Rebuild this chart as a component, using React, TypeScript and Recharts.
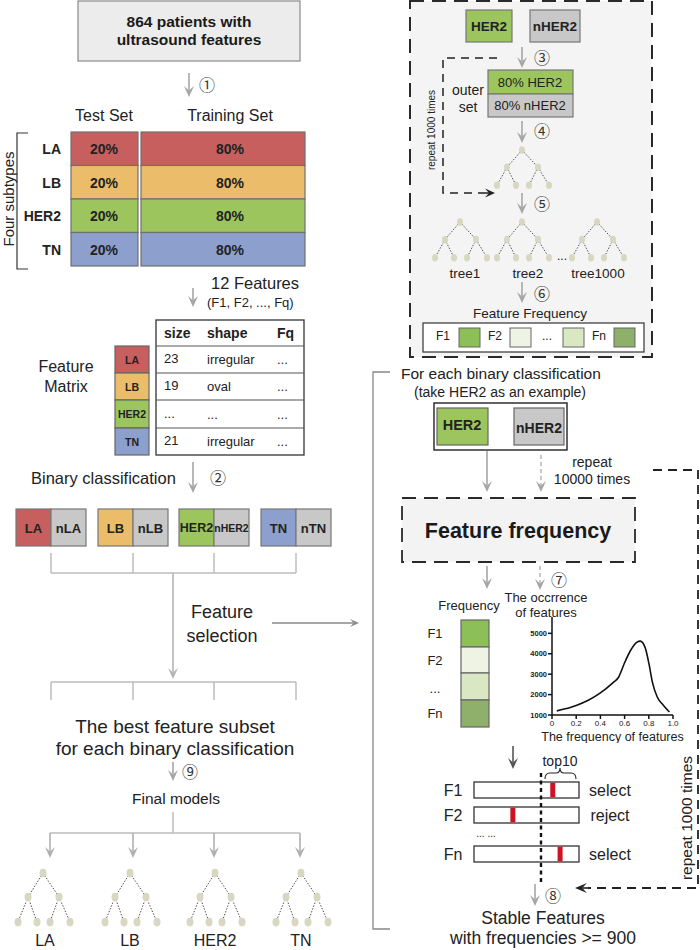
import React from 'react';
import { LineChart, Line, XAxis, YAxis } from 'recharts';

const subtypes = ['LA', 'LB', 'HER2', 'TN'];
const subtypeColors = ['#c65f5d', '#ebbd6a', '#9dc55d', '#8d9fcc'];
const testShare = ['20%', '20%', '20%', '20%'];
const trainShare = ['80%', '80%', '80%', '80%'];
const matrixHeader = ['size', 'shape', 'Fq'];
const matrixSize = ['23', '19', '...', '21'];
const matrixShape = ['irregular', 'oval', '...', 'irregular'];
const matrixFq = ['...', '...', '...', '...'];
const negatives = ['nLA', 'nLB', 'nHER2', 'nTN'];
const featureNames = ['F1', 'F2', '...', 'Fn'];
const featureShades = ['#8cbf58', '#eef3e3', '#d9e7c3', '#8fb06b'];
const treeNames = ['tree1', 'tree2', 'tree1000'];
const barNames = ['F1', 'F2', 'Fn'];
const barMark = [0.75, 0.37, 0.82];
const barDecision = ['select', 'reject', 'select'];

// occurrence curve
const freqX = [0.04, 0.1, 0.2, 0.3, 0.4, 0.5, 0.55, 0.6, 0.65, 0.7, 0.73, 0.77, 0.8, 0.83, 0.87, 0.92, 0.97];
const occurrence = [1200, 1290, 1470, 1720, 2080, 2560, 2850, 3560, 4170, 4560, 4620, 4300, 3550, 2600, 1880, 1480, 1150];
const freqTicks = [0, 0.2, 0.4, 0.6, 0.8, 1.0];
const occTicks = [1000, 2000, 3000, 4000, 5000];

const curveData = freqX.map((x, i) => ({ x, occ: occurrence[i] }));

const FONT = '"Liberation Sans", Arial, Helvetica, sans-serif';
const CIRC = '"Noto Sans CJK JP", "DejaVu Serif", serif';
const GRAY = '#a6a6a6';
const LINE = '#bdbdbd';

const T = ({ x, y, size = 14, bold = false, anchor = 'middle', fill = '#222', rotate = 0, family = FONT, children }: any) => (
  <text
    x={x}
    y={y}
    fontSize={size}
    fontWeight={bold ? 700 : 400}
    textAnchor={anchor}
    dominantBaseline="central"
    fill={fill}
    fontFamily={family}
    transform={rotate ? `rotate(${rotate} ${x} ${y})` : undefined}
  >
    {children}
  </text>
);

const Step = ({ x, y, children }: any) => (
  <T x={x} y={y} size={16} family={CIRC} fill="#333">{children}</T>
);

function Arrow({ x1, y1, x2, y2, color = GRAY, width = 1.6, head = 11, spread = 5, dash }: any) {
  const a = Math.atan2(y2 - y1, x2 - x1);
  const ux = Math.cos(a), uy = Math.sin(a);
  const px = -uy, py = ux;
  const bx = x2 - ux * head, by = y2 - uy * head;
  const nx = x2 - ux * head * 0.6, ny = y2 - uy * head * 0.6;
  const pts = `${x2},${y2} ${bx + px * spread},${by + py * spread} ${nx},${ny} ${bx - px * spread},${by - py * spread}`;
  return (
    <g>
      <line x1={x1} y1={y1} x2={nx} y2={ny} stroke={color} strokeWidth={width} strokeDasharray={dash} />
      <polygon points={pts} fill={color} />
    </g>
  );
}

function Tree({ cx, cy, sy = 1, r = 3.5 }: any) {
  const nodes = [[0, 0], [-15, 24], [16, 24], [-25, 49], [-6, 49], [7, 49], [27, 49]];
  const edges = [[0, 1], [0, 2], [1, 3], [1, 4], [2, 5], [2, 6]];
  const p = nodes.map(([dx, dy]) => [cx + dx, cy + dy * sy]);
  return (
    <g>
      {edges.map(([a, b], i) => (
        <line key={i} x1={p[a][0]} y1={p[a][1]} x2={p[b][0]} y2={p[b][1]} stroke="#333" strokeWidth={0.9} strokeDasharray="1.4 1.6" />
      ))}
      {p.map(([x, y], i) => (
        <ellipse key={i} cx={x} cy={y} rx={r} ry={r * 1.25} fill="#d7d7c2" />
      ))}
    </g>
  );
}

function Diagram() {
  const rowH = 33.5;
  const mRows = [346, 373, 400, 428];
  const pairX = [16, 98, 179, 261];
  const finalX = [50, 133, 214, 300];
  const finalTree = [43, 130, 215, 301];
  const topTrees = [460, 522, 597];
  const treeLabelX = [465, 528, 598];
  const ffSquares = [459, 510, 563, 614];
  const ffLabels = [443, 495, 547, 599];
  const freqTops = [620, 647, 673, 700];
  const barTops = [782, 807, 846];
  return (
    <svg width={700} height={950} style={{ position: 'absolute', left: 0, top: 0 }}>
      {/* ---------- left column ---------- */}
      <rect x={78} y={1} width={222} height={60} fill="#ececec" stroke="#8a8a8a" strokeWidth={1.2} />
      <T x={189} y={21} size={15.5} bold fill="#1a1a1a">864 patients with</T>
      <T x={189} y={39} size={15.5} bold fill="#1a1a1a">ultrasound features</T>
      <Arrow x1={189} y1={73} x2={189} y2={97} />
      <Step x={207} y={84}>①</Step>

      <T x={104} y={115} size={16}>Test Set</T>
      <T x={230} y={115} size={16}>Training Set</T>
      {subtypes.map((s, i) => {
        const y = 132 + i * rowH;
        return (
          <g key={s}>
            <rect x={71} y={y} width={67} height={rowH} fill={subtypeColors[i]} stroke="#707070" strokeWidth={1.2} />
            <rect x={141} y={y} width={164} height={rowH} fill={subtypeColors[i]} stroke="#707070" strokeWidth={1.2} />
            <T x={104} y={y + 17} size={14} bold>{testShare[i]}</T>
            <T x={230} y={y + 17} size={14} bold>{trainShare[i]}</T>
            <T x={61} y={y + 17} size={14} bold anchor="end">{s}</T>
          </g>
        );
      })}
      <path d="M28 133 H17 V269 H28" fill="none" stroke="#333" strokeWidth={1.2} />
      <T x={8} y={199} size={15} rotate={-90}>Four subtypes</T>

      <Arrow x1={193} y1={288} x2={193} y2={307} />
      <T x={211} y={283} size={16.5} anchor="start">12 Features</T>
      <T x={207} y={302} size={13} anchor="start">(F1, F2, ..., Fq)</T>

      <T x={66} y={366} size={16}>Feature</T>
      <T x={66} y={386} size={16}>Matrix</T>
      <rect x={156} y={320} width={148} height={135} fill="#fff" stroke="#333" strokeWidth={1.3} />
      {mRows.map((y) => (
        <line key={y} x1={156} y1={y} x2={304} y2={y} stroke="#555" strokeWidth={1} />
      ))}
      <T x={164} y={333} size={14} bold anchor="start">{matrixHeader[0]}</T>
      <T x={207} y={333} size={14} bold anchor="start">{matrixHeader[1]}</T>
      <T x={277} y={333} size={14} bold anchor="start">{matrixHeader[2]}</T>
      {subtypes.map((s, i) => {
        const y = mRows[i];
        const h = (i < 3 ? mRows[i + 1] : 455) - y;
        return (
          <g key={s}>
            <rect x={115} y={y} width={34} height={h} fill={subtypeColors[i]} stroke="#666" strokeWidth={1.2} />
            <T x={132} y={y + h / 2} size={10.5} bold>{s}</T>
            <T x={164} y={y + h / 2 - 1} size={13} anchor="start">{matrixSize[i]}</T>
            <T x={207} y={y + h / 2} size={13} anchor="start">{matrixShape[i]}</T>
            <T x={277} y={y + h / 2} size={13} anchor="start">{matrixFq[i]}</T>
          </g>
        );
      })}

      <T x={31} y={478} size={16.5} anchor="start">Binary classification</T>
      <Arrow x1={193} y1={462} x2={193} y2={493} />
      <Step x={218} y={477}>②</Step>

      {subtypes.map((s, i) => {
        const x = pairX[i];
        return (
          <g key={s}>
            <rect x={x} y={509} width={35} height={37} fill={subtypeColors[i]} stroke="#777" strokeWidth={1.2} />
            <rect x={x + 35} y={509} width={35} height={37} fill="#c8c8c8" stroke="#777" strokeWidth={1.2} />
            <T x={x + 17.5} y={528} size={s === 'HER2' ? 12.5 : 13} bold>{s}</T>
            <T x={x + 52.5} y={528} size={negatives[i] === 'nHER2' ? 10.5 : 13} bold>{negatives[i]}</T>
            <line x1={x + 35} y1={553} x2={x + 35} y2={573} stroke={LINE} strokeWidth={1.5} />
            <line x1={x + 35} y1={682} x2={x + 35} y2={700} stroke={LINE} strokeWidth={1.5} />
          </g>
        );
      })}
      <line x1={51} y1={573} x2={296} y2={573} stroke={LINE} strokeWidth={1.5} />
      <Arrow x1={173} y1={573} x2={173} y2={679} color="#b5b5b5" />
      <line x1={51} y1={682} x2={296} y2={682} stroke={LINE} strokeWidth={1.5} />
      <T x={222} y={612} size={18}>Feature</T>
      <T x={222} y={636} size={18}>selection</T>
      <Arrow x1={272} y1={623} x2={359} y2={623} color="#8a8a8a" width={1.3} head={9} spread={4} />

      <T x={175} y={726} size={19}>The best feature subset</T>
      <T x={175} y={748} size={19}>for each binary classification</T>
      <Arrow x1={173} y1={762} x2={173} y2={781} />
      <Step x={190} y={771}>⑨</Step>
      <T x={176} y={798} size={15.5}>Final models</T>
      <line x1={173} y1={812} x2={173} y2={833} stroke={LINE} strokeWidth={1.5} />
      <line x1={50} y1={833} x2={300} y2={833} stroke={LINE} strokeWidth={1.5} />
      {finalX.map((x, i) => (
        <g key={i}>
          <Arrow x1={x} y1={833} x2={x} y2={858} color="#b0b0b0" />
          <Tree cx={finalTree[i]} cy={873} />
          <T x={finalTree[i] + (i === 0 ? 2 : 0)} y={940} size={16}>{subtypes[i]}</T>
        </g>
      ))}

      {/* bracket */}
      <path d="M390 372 H373 V929 H390" fill="none" stroke="#888" strokeWidth={1.3} />

      {/* ---------- right top panel ---------- */}
      <rect x={410} y={1} width={242} height={356} fill="#f4f4f4" stroke="#2a2a2a" strokeWidth={2} strokeDasharray="14 8" />
      <rect x={466} y={10} width={46} height={32} fill={subtypeColors[2]} stroke="#777" strokeWidth={1.2} />
      <rect x={530} y={10} width={50} height={32} fill="#c8c8c8" stroke="#777" strokeWidth={1.2} />
      <T x={489} y={26} size={13.5} bold>HER2</T>
      <T x={555} y={26} size={13.5} bold>nHER2</T>
      <Arrow x1={522} y1={47} x2={522} y2={68} />
      <Step x={542} y={57}>③</Step>
      <path d="M497 58 H443 V193 H484" fill="none" stroke="#222" strokeWidth={1.5} strokeDasharray="8 6" />
      <Arrow x1={484} y1={193} x2={495} y2={193} color="#222" width={1.5} head={10} spread={4.5} />
      <T x={431} y={130} size={10} rotate={-90}>repeat 1000 times</T>
      <T x={468} y={90} size={14}>outer</T>
      <T x={468} y={107} size={14}>set</T>
      <rect x={488} y={70} width={85} height={24} fill={subtypeColors[2]} stroke="#777" strokeWidth={1.2} />
      <rect x={488} y={94} width={85} height={23} fill="#c8c8c8" stroke="#777" strokeWidth={1.2} />
      <T x={530} y={82} size={13}>80% HER2</T>
      <T x={530} y={105.5} size={13}>80% nHER2</T>
      <Arrow x1={522} y1={121} x2={522} y2={143} />
      <Step x={542} y={130}>④</Step>
      <Tree cx={522} cy={150} sy={0.72} r={3} />
      <Arrow x1={522} y1={193} x2={522} y2={214} />
      <Step x={542} y={203}>⑤</Step>
      {topTrees.map((x, i) => (
        <g key={i}>
          <Tree cx={x} cy={222} sy={0.73} r={3} />
          <T x={treeLabelX[i]} y={273} size={13.5}>{treeNames[i]}</T>
        </g>
      ))}
      <T x={562} y={256} size={12}>...</T>
      <Arrow x1={522} y1={282} x2={522} y2={303} />
      <Step x={542} y={293}>⑥</Step>
      <T x={530} y={313} size={13.5}>Feature Frequency</T>
      <rect x={423} y={323} width={221} height={29} fill="#fff" stroke="#333" strokeWidth={1.2} />
      {featureNames.map((f, i) => (
        <g key={f}>
          <T x={ffLabels[i]} y={336} size={12}>{f}</T>
          <rect x={ffSquares[i]} y={328} width={21} height={19} fill={featureShades[i]} stroke="#666" strokeWidth={1} />
        </g>
      ))}

      {/* ---------- right middle ---------- */}
      <T x={401} y={373} size={15.5} anchor="start">For each binary classification</T>
      <T x={500} y={392} size={14}>(take HER2 as an example)</T>
      <rect x={434} y={403} width={133} height={47} fill="#fff" stroke="#222" strokeWidth={1.4} />
      <rect x={437} y={408} width={51} height={37} fill={subtypeColors[2]} stroke="#666" strokeWidth={1.2} />
      <rect x={514} y={408} width={50} height={37} fill="#c8c8c8" stroke="#666" strokeWidth={1.2} />
      <T x={462} y={425} size={14.5} bold>HER2</T>
      <T x={539} y={428} size={14} bold>nHER2</T>
      <Arrow x1={487} y1={451} x2={487} y2={492} />
      <Arrow x1={541} y1={455} x2={541} y2={492} dash="4 3" width={1.2} />
      <T x={592} y={462} size={14}>repeat</T>
      <T x={592} y={479} size={14}>10000 times</T>
      <path d="M653 470 H698 V888 H588" fill="none" stroke="#222" strokeWidth={1.8} strokeDasharray="9 6" />
      <Arrow x1={590} y1={888} x2={575} y2={888} color="#222" width={1.6} head={12} spread={5} />
      <T x={686} y={818} size={15.5} rotate={-90}>repeat 1000 times</T>

      <rect x={402} y={498} width={233} height={64} fill="#f3f3f3" stroke="#2a2a2a" strokeWidth={1.8} strokeDasharray="14 8" />
      <T x={518} y={531} size={21.5} bold fill="#1a1a1a">Feature frequency</T>

      <Arrow x1={487} y1={566} x2={487} y2={589} />
      <Arrow x1={540} y1={566} x2={540} y2={590} dash="4 3" width={1.2} />
      <Step x={559} y={579}>⑦</Step>
      <T x={469} y={605} size={13}>Frequency</T>
      <T x={546} y={597} size={13}>The occrrence</T>
      <T x={546} y={612} size={13}>of features</T>

      {featureNames.map((f, i) => {
        const y = freqTops[i];
        const h = i < 3 ? freqTops[i + 1] - y : 27;
        return (
          <g key={f}>
            <rect x={461} y={y} width={28} height={h} fill={featureShades[i]} stroke="#666" strokeWidth={1.2} />
            <T x={435} y={y + h / 2 + (i === 2 ? 2 : 0)} size={13}>{f}</T>
          </g>
        );
      })}

      {/* ---------- selection bars ---------- */}
      <Arrow x1={513} y1={746} x2={513} y2={769} color="#555" />
      <T x={560} y={761} size={14}>top10</T>
      <path d="M545 779 Q545 773 550 773 H556 Q560 773 560 768 Q560 773 564 773 H571 Q576 773 576 779" fill="none" stroke="#222" strokeWidth={1.1} />
      {barNames.map((f, i) => {
        const y = barTops[i];
        return (
          <g key={f}>
            <rect x={474} y={y} width={105} height={16} fill="#fff" stroke="#333" strokeWidth={1.3} />
            <rect x={474 + 105 * barMark[i] - 2.5} y={y + 0.7} width={5} height={14.6} fill="#cc1424" />
            <T x={453} y={y + 8} size={16}>{f}</T>
            <T x={610} y={y + 8} size={16}>{barDecision[i]}</T>
          </g>
        );
      })}
      <T x={486} y={833} size={10}>... ...</T>
      <line x1={541} y1={773} x2={541} y2={882} stroke="#111" strokeWidth={2.4} strokeDasharray="4 3.5" />
      <Arrow x1={535} y1={884} x2={535} y2={906} />
      <Step x={553} y={895}>⑧</Step>
      <T x={543} y={918} size={17.5}>Stable Features</T>
      <T x={543} y={938} size={17.5}>with frequencies &gt;= 900</T>
    </svg>
  );
}

export default function App() {
  return (
    <div style={{ position: 'absolute', left: 0, top: 0, width: 700, height: 950, background: '#fff', overflow: 'hidden', fontFamily: FONT }}>
      <Diagram />
      <div style={{ position: 'absolute', left: 500, top: 605 }}>
        <LineChart width={185} height={138} data={curveData} margin={{ top: 12, right: 12, bottom: 0, left: 0 }}>
          <XAxis
            dataKey="x"
            type="number"
            domain={[0, 1]}
            ticks={freqTicks}
            tickFormatter={(v: number) => (v === 0 ? '0' : v.toFixed(1))}
            height={28}
            tickSize={4}
            tickMargin={1}
            stroke="#111"
            strokeWidth={1.5}
            tick={{ fontSize: 8, fill: '#222', fontFamily: FONT }}
            label={{ value: 'The frequency of features', position: 'insideBottom', offset: 2, fontSize: 12.5, fill: '#222', fontFamily: FONT }}
          />
          <YAxis
            type="number"
            domain={[1000, 5800]}
            ticks={occTicks}
            width={52}
            tickSize={4}
            tickMargin={1}
            stroke="#111"
            strokeWidth={1.5}
            tick={{ fontSize: 7.5, fontWeight: 700, fill: '#222', fontFamily: FONT }}
          />
          <Line type="monotone" dataKey="occ" stroke="#111" strokeWidth={1.6} dot={false} isAnimationActive={false} />
        </LineChart>
      </div>
    </div>
  );
}
